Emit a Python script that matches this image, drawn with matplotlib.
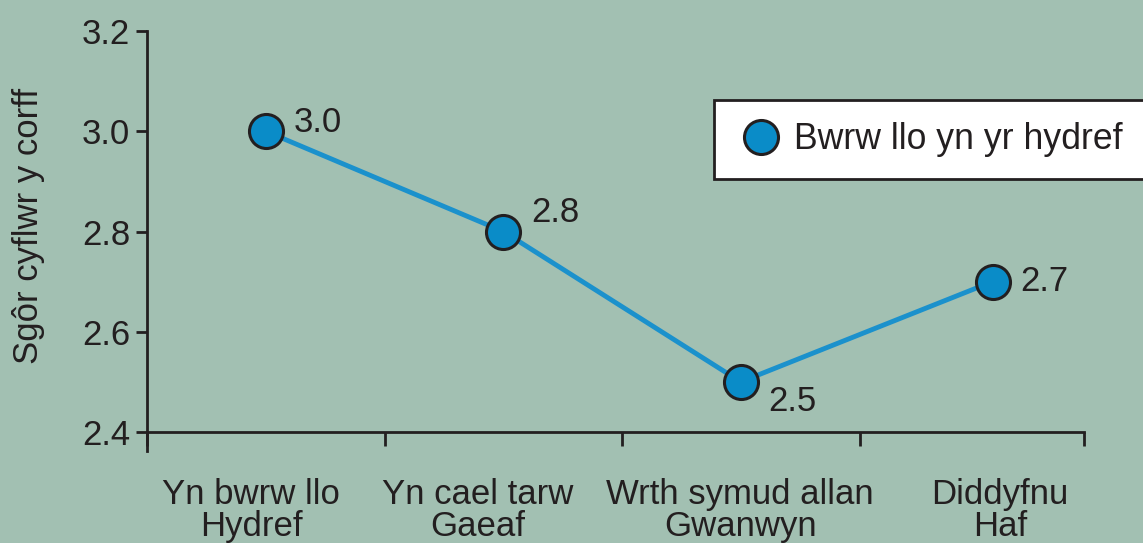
import matplotlib
matplotlib.use("Agg")
import matplotlib.pyplot as plt
import numpy as np

# ---- data ----
categories = ["Yn bwrw llo\nHydref", "Yn cael tarw\nGaeaf", "Wrth symud allan\nGwanwyn", "Diddyfnu\nHaf"]
values = [3.0, 2.8, 2.5, 2.7]
value_labels = ["3.0", "2.8", "2.5", "2.7"]
series_name = "Bwrw llo yn yr hydref"
y_label = "Sgôr cyflwr y corff"
y_ticks = [2.4, 2.6, 2.8, 3.0, 3.2]

# ---- style ----
BG = "#a2c0b2"
INK = "#231f20"
BLUE = "#0a8cc8"
LINE = "#1b91cc"
FONT = ["Liberation Sans", "DejaVu Sans"]
plt.rcParams["font.family"] = FONT

xpos = [0.5, 1.5, 2.5, 3.56]            # category centres on the axis
label_x = [0.438, 1.394, 2.497, 3.592]  # where category texts sit
boundaries = [0, 1, 2, 3, 3.945]        # tick marks between categories
label_offsets = [(20, 6), (20, 14), (20, -14), (20, 0)]  # points

fig = plt.figure(figsize=(11.43, 5.43), dpi=100, facecolor=BG)
ax = fig.add_axes([147/1143, 1-451/543, (1084-147)/1143, (451-31)/543])
ax.set_facecolor(BG)

ax.plot(xpos, values, color=LINE, lw=3.5, zorder=2)
ax.plot(xpos, values, ls="none", marker="o", ms=24.5, mfc=BLUE, mec=INK, mew=2.2,
        zorder=3, label=series_name)

for x, v, t, (dx, dy) in zip(xpos, values, value_labels, label_offsets):
    ax.annotate(t, (x, v), xytext=(dx, dy), textcoords="offset points",
                ha="left", va="center", fontsize=25, color=INK)

d = 19 / ((432 - 31) / 0.8)
ax.set_ylim(2.4 - d, 3.2)
ax.set_xlim(0, 3.945)

for s in ["top", "right"]:
    ax.spines[s].set_visible(False)
ax.spines["left"].set_bounds(2.4 - d, 3.2)
ax.spines["bottom"].set_position(("data", 2.4))
for s in ["left", "bottom"]:
    ax.spines[s].set_color(INK)
    ax.spines[s].set_linewidth(2.0)

ax.set_yticks(y_ticks)
ax.set_yticklabels([f"{t:.1f}" for t in y_ticks])
ax.tick_params(axis="y", direction="out", length=8, width=2, color=INK,
               labelsize=25, labelcolor=INK, pad=4)

ax.set_xticks(boundaries)
ax.set_xticklabels([])
ax.tick_params(axis="x", which="major", direction="out", length=10, width=2, color=INK)
ax.set_xticks(label_x, minor=True)
ax.set_xticklabels(categories, minor=True)
ax.tick_params(axis="x", which="minor", length=0, labelsize=25, labelcolor=INK, pad=33)
for lab in ax.get_xticklabels(minor=True):
    lab.set_linespacing(0.95)

ax.set_ylabel(y_label, fontsize=25, color=INK)
ax.yaxis.set_label_coords((45 - 147) / 937, (451 - 226) / 420)

leg = ax.legend(loc="upper left", bbox_to_anchor=(714/1143, 1-100/543),
                bbox_transform=fig.transFigure, frameon=True, fancybox=False,
                fontsize=25.7, markerscale=1.0, handletextpad=0.25, borderpad=0.62,
                handlelength=1.38, borderaxespad=0)
leg.get_frame().set_edgecolor(INK)
leg.get_frame().set_linewidth(2.0)
leg.get_frame().set_facecolor("white")
leg.get_frame().set_alpha(1)
for t in leg.get_texts():
    t.set_color(INK)

fig.savefig("out.png", dpi=100, facecolor=BG)
